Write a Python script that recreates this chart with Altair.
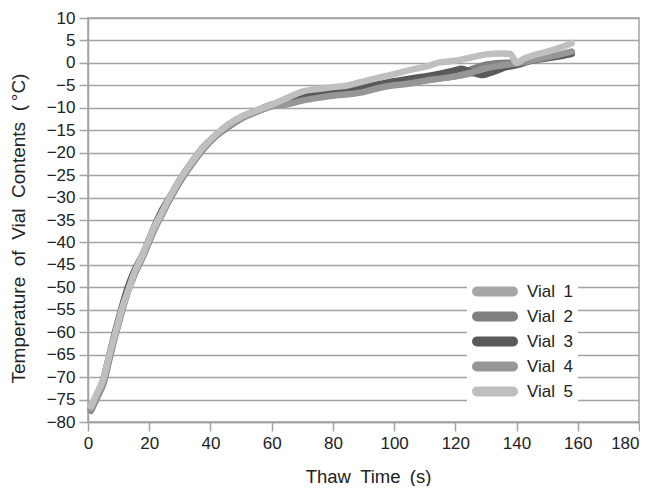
import altair as alt
import pandas as pd

vials = ["Vial\u20021", "Vial\u20022", "Vial\u20023", "Vial\u20024", "Vial\u20025"]
colors = ["#a6a6a6", "#7f7f7f", "#595959", "#969696", "#bfbfbf"]

t_early = [1, 3, 5, 7, 9, 11, 13, 15, 18, 21, 24, 27, 30, 34, 38, 42, 46, 50, 55]
t_late = [60, 65, 70, 75, 80, 85, 90, 95, 100, 105, 110, 115, 120, 125, 130, 135, 140, 145, 150, 155, 158]

v1_early = [-77, -74, -71, -65.5, -60, -55, -50.5, -47, -43, -38, -33.5, -30, -26.5, -22.3, -18.7, -16, -14, -12.3, -10.8]
v2_early = [-77.5, -74.5, -71.5, -66, -60.5, -55.5, -51, -47.5, -43, -38, -34, -30, -26.5, -22.5, -19, -16.2, -14.2, -12.4, -10.9]
v3_early = [-77, -74, -70.5, -65, -59.5, -54.5, -50, -46.5, -42.5, -37.5, -33, -29.5, -26, -22, -18.5, -16, -14, -12.2, -10.7]
v4_early = [-77.2, -74.3, -71, -65.5, -60.5, -55.5, -51, -47.2, -43, -38.2, -33.8, -30, -26.3, -22.4, -18.8, -16.1, -14.1, -12.4, -10.9]
v5_early = [-76.5, -73.5, -70.5, -65, -60, -55, -51, -47, -42.5, -37.5, -33.5, -29.5, -26, -22, -18.5, -15.8, -13.6, -12.0, -10.6]

v1_late = [-9.5, -8.8, -8.0, -7.5, -7.0, -6.6, -6.0, -5.2, -4.7, -4.3, -3.8, -3.4, -3.0, -2.4, -1.6, -0.8, -0.2, 0.5, 1.0, 1.6, 2.0]
v2_late = [-9.6, -9.0, -8.2, -7.6, -7.2, -6.8, -6.2, -5.4, -4.8, -4.4, -3.9, -3.4, -2.9, -1.5, -0.4, 0.0, 0.1, 0.6, 1.2, 1.9, 2.4]
v4_late = [-9.7, -9.2, -8.4, -7.8, -7.3, -7.0, -6.5, -5.6, -5.0, -4.6, -4.0, -3.5, -3.0, -2.2, -1.2, -0.6, -0.1, 0.6, 1.3, 2.0, 2.5]

t3_late = [60, 65, 70, 75, 80, 85, 90, 95, 100, 105, 110, 115, 120, 122, 125, 129, 132, 137, 140, 145, 150, 155, 158]
v3_late = [-9.3, -8.5, -7.6, -7.1, -6.7, -6.1, -5.4, -4.7, -4.1, -3.5, -3.0, -2.4, -1.6, -1.3, -2.0, -2.7, -2.1, -0.9, -0.5, 0.5, 1.1, 1.6, 2.0]

t5_late = [60, 65, 70, 75, 80, 85, 90, 95, 100, 105, 110, 115, 120, 125, 130, 135, 138, 140, 142, 145, 150, 155, 158]
v5_late = [-9.3, -7.8, -6.4, -5.8, -5.4, -5.0, -4.1, -3.3, -2.5, -1.6, -0.9, 0.1, 0.5, 1.2, 1.9, 2.1, 2.0, 0.0, 0.8, 1.6, 2.5, 3.6, 4.4]

series = {
    vials[0]: (t_early + t_late, v1_early + v1_late),
    vials[1]: (t_early + t_late, v2_early + v2_late),
    vials[2]: (t_early + t3_late, v3_early + v3_late),
    vials[3]: (t_early + t_late, v4_early + v4_late),
    vials[4]: (t_early + t5_late, v5_early + v5_late),
}

rows = []
for name, (ts, vs) in series.items():
    for t, v in zip(ts, vs):
        rows.append({"vial": name, "t": t, "temp": v})
df = pd.DataFrame(rows)

FONT = "Liberation Sans"
GRID = "#a3a3a3"
TXT = "#222222"

# thin rounded outline; drawn with a thick stroke it reads as a capsule
capsule = "M-0.91,-0.09L6.31,-0.09A0.09,0.09,0,0,1,6.31,0.09L-0.91,0.09A0.09,0.09,0,0,1,-0.91,-0.09Z"

x = alt.X("t:Q", scale=alt.Scale(domain=[0, 180], nice=False),
          axis=alt.Axis(values=list(range(0, 181, 20)), title="Thaw\u2002Time\u2002(s)",
                        grid=False, tickSize=9, labelPadding=4, labelFontSize=17,
                        labelAlign=alt.ConditionalAxisLabelAlign(
                            condition={"test": "datum.value >= 180", "value": "right"},
                            value="center"),
                        titleFontSize=18.5, titleFontWeight="normal",
                        titleX=280, titleY=54, titleBaseline="middle",
                        labelFlush=False))
y = alt.Y("temp:Q", scale=alt.Scale(domain=[-80, 10], nice=False),
          axis=alt.Axis(values=list(range(-80, 11, 5)),
                        title="Temperature\u00a0 of\u00a0 Vial\u00a0 Contents\u00a0 (\u2009°C)",
                        grid=True, tickSize=9, labelPadding=4, labelFontSize=17,
                        titleFontSize=19, titleFontWeight="normal",
                        titleAngle=-90, titleX=-70, titleY=210, titleBaseline="middle",
                        titleAlign="center"))

color_scale = alt.Scale(domain=vials, range=colors)

chart = alt.Chart(df).mark_line(strokeWidth=6.5, strokeCap="round", strokeJoin="round",
                                interpolate="monotone").encode(
    x=x, y=y,
    color=alt.Color("vial:N", scale=color_scale,
                    legend=alt.Legend(title=None, orient="none", legendX=379, legendY=260,
                                      symbolType=capsule, symbolSize=100,
                                      symbolStrokeWidth=9, clipHeight=17,
                                      labelFontSize=17, labelOffset=36, rowPadding=7,
                                      padding=5, fillColor="white",
                                      labelColor=TXT, labelFont=FONT)),
    order="t:Q",
).properties(
    width=551, height=404,
    autosize=alt.AutoSizeParams(type="none"),
    padding={"left": 80, "top": 10, "right": 1, "bottom": 64},
).configure_view(stroke=GRID, strokeWidth=1.5).configure_axis(
    gridColor=GRID, gridWidth=1.5, domainColor=GRID, domainWidth=1.5,
    tickColor=GRID, tickWidth=1.5, labelColor=TXT, titleColor=TXT,
    labelFont=FONT, titleFont=FONT,
)

chart.save("out.html", embed_options={"renderer": "svg", "actions": False})
